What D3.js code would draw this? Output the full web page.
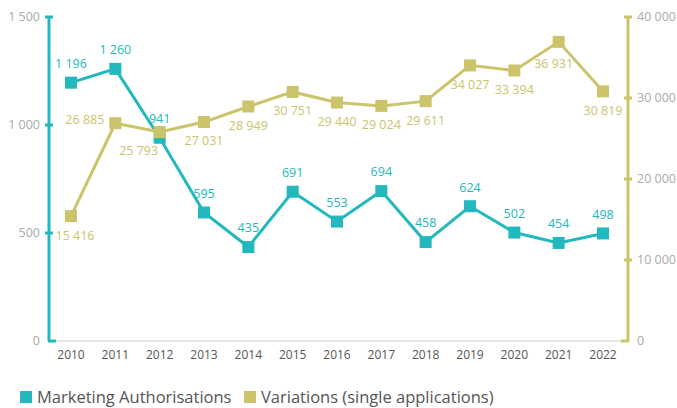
<!DOCTYPE html>
<html>
<head>
<meta charset="utf-8">
<script src="https://cdn.jsdelivr.net/npm/d3@7"></script>
<style>
  body { margin: 0; background: #fff; }
  text { font-family: "Open Sans", "Noto Sans", sans-serif; }
</style>
</head>
<body>
<div id="chart"></div>
<script>
var years = [2010, 2011, 2012, 2013, 2014, 2015, 2016, 2017, 2018, 2019, 2020, 2021, 2022]
var marketingAuth = [1196, 1260, 941, 595, 435, 691, 553, 694, 458, 624, 502, 454, 498]
var variations = [15416, 26885, 25793, 27031, 28949, 30751, 29440, 29024, 29611, 34027, 33394, 36931, 30819]
// where each variation label sits relative to its point
var variationLabelPos = ["below", "left", "belowLeft", "below", "below", "below", "below", "below", "below", "below", "below", "belowSlightLeft", "below"]
var leftTicks = [0, 500, 1000, 1500]
var rightTicks = [0, 10000, 20000, 30000, 40000]
var seriesNames = ["Marketing Authorisations", "Variations (single applications)"]

var width = 677, height = 408
var teal = "#22b8be", olive = "#cbc46b"
var plotLeft = 49, plotRight = 628, plotTop = 17, plotBottom = 341

var fmt = d3.formatLocale({ decimal: ",", thousands: " ", grouping: [3], currency: ["", ""] }).format(",d")

var svg = d3.select("#chart").append("svg")
    .attr("width", width)
    .attr("height", height)

var x = d3.scalePoint()
    .domain(years)
    .range([71, 603])

var yLeft = d3.scaleLinear().domain([0, 1500]).range([plotBottom, plotTop])
var yRight = d3.scaleLinear().domain([0, 40000]).range([plotBottom, plotTop])

// baseline
svg.append("line")
    .attr("x1", plotLeft).attr("x2", plotRight)
    .attr("y1", plotBottom).attr("y2", plotBottom)
    .attr("stroke", "#dcdcdc").attr("stroke-width", 1.5)

// x labels
svg.selectAll(".xlab")
    .data(years)
    .enter()
    .append("text")
    .attr("x", d => x(d))
    .attr("y", 359)
    .attr("text-anchor", "middle")
    .attr("font-size", 12)
    .attr("fill", "#555")
    .text(d => d)

// left axis
var gl = svg.append("g").attr("transform", "translate(" + plotLeft + ",0)")
gl.append("line")
    .attr("y1", plotTop).attr("y2", plotBottom)
    .attr("stroke", teal).attr("stroke-width", 3)
gl.selectAll(".tk")
    .data(leftTicks)
    .enter()
    .append("line")
    .attr("x1", d => d == 0 ? -1 : -4)
    .attr("x2", d => d == 0 ? 7 : 4)
    .attr("y1", d => yLeft(d)).attr("y2", d => yLeft(d))
    .attr("stroke", teal).attr("stroke-width", 3)
gl.selectAll(".tl")
    .data(leftTicks)
    .enter()
    .append("text")
    .attr("x", -9)
    .attr("y", d => yLeft(d))
    .attr("dy", "0.35em")
    .attr("text-anchor", "end")
    .attr("font-size", 12.5)
    .attr("fill", "#aaa")
    .text(d => fmt(d))

// right axis
var gr = svg.append("g").attr("transform", "translate(" + plotRight + ",0)")
gr.append("line")
    .attr("y1", plotTop).attr("y2", plotBottom)
    .attr("stroke", olive).attr("stroke-width", 3)
gr.selectAll(".tk")
    .data(rightTicks)
    .enter()
    .append("line")
    .attr("x1", d => d == 0 ? -7 : -4)
    .attr("x2", d => d == 0 ? 1 : 4)
    .attr("y1", d => yRight(d)).attr("y2", d => yRight(d))
    .attr("stroke", olive).attr("stroke-width", 3)
gr.selectAll(".tl")
    .data(rightTicks)
    .enter()
    .append("text")
    .attr("x", 9)
    .attr("y", d => yRight(d))
    .attr("dy", "0.35em")
    .attr("font-size", 12.5)
    .attr("fill", "#aaa")
    .text(d => fmt(d))

function drawSeries(values, y, color) {
    var pts = values.map((v, i) => ({ year: years[i], value: v, i: i }))
    svg.append("path")
        .datum(pts)
        .attr("fill", "none")
        .attr("stroke", color)
        .attr("stroke-width", 3)
        .attr("d", d3.line().x(d => x(d.year)).y(d => y(d.value)))
    svg.selectAll(null)
        .data(pts)
        .enter()
        .append("rect")
        .attr("x", d => x(d.year) - 6)
        .attr("y", d => y(d.value) - 6)
        .attr("width", 12)
        .attr("height", 12)
        .attr("fill", color)
    return pts
}

var maPts = drawSeries(marketingAuth, yLeft, teal)
var vaPts = drawSeries(variations, yRight, olive)

// labels
svg.selectAll(null)
    .data(maPts)
    .enter()
    .append("text")
    .attr("x", d => x(d.year))
    .attr("y", d => yLeft(d.value) - 19)
    .attr("dy", "0.35em")
    .attr("text-anchor", "middle")
    .attr("font-size", 12.5)
    .attr("fill", teal)
    .text(d => fmt(d.value))

svg.selectAll(null)
    .data(vaPts)
    .enter()
    .append("text")
    .attr("x", function (d) {
        var p = variationLabelPos[d.i]
        if (p == "left") return x(d.year) - 11
        if (p == "belowLeft") return x(d.year) - 21
        if (p == "belowSlightLeft") return x(d.year) - 5
        return x(d.year) + (d.i == 0 ? 4 : 0)
    })
    .attr("y", function (d) {
        var p = variationLabelPos[d.i]
        if (p == "left") return yRight(d.value) - 4
        if (p == "belowSlightLeft") return yRight(d.value) + 22
        return yRight(d.value) + 19
    })
    .attr("dy", "0.35em")
    .attr("text-anchor", d => variationLabelPos[d.i] == "left" ? "end" : "middle")
    .attr("font-size", 12.5)
    .attr("fill", olive)
    .text(d => fmt(d.value))

// legend
var legend = svg.append("g").attr("transform", "translate(20,397)")
var lx = [0, 224]
var colors = [teal, olive]
seriesNames.forEach(function (name, i) {
    legend.append("rect")
        .attr("x", lx[i]).attr("y", -6)
        .attr("width", 12).attr("height", 12)
        .attr("fill", colors[i])
    legend.append("text")
        .attr("x", lx[i] + 17)
        .attr("y", 0)
        .attr("dy", "0.35em")
        .attr("font-size", 16.5)
        .attr("fill", "#555")
        .text(name)
})
</script>
</body>
</html>
